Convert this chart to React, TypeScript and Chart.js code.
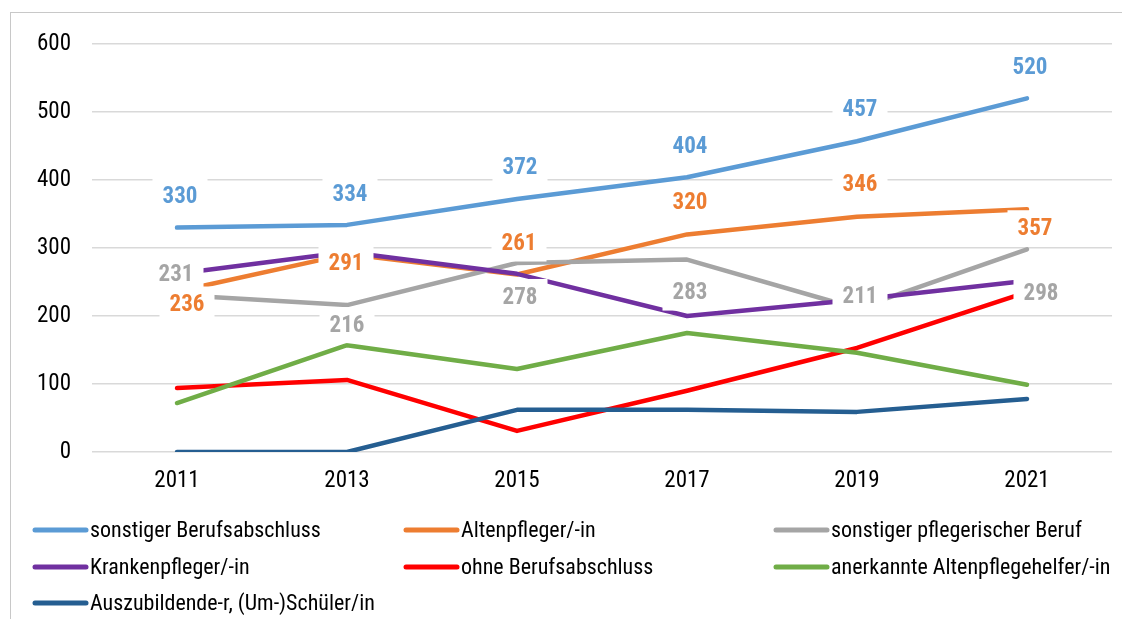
import React, { useEffect, useRef } from "react";
import { Chart, registerables } from "chart.js";

Chart.register(...registerables);

// ---- data ----
const years = ["2011", "2013", "2015", "2017", "2019", "2021"];
const sonstigerBerufsabschluss = [330, 334, 372, 404, 457, 520];
const altenpfleger = [236, 291, 261, 320, 346, 357];
const sonstigerPflegerischerBeruf = [231, 216, 278, 283, 211, 298];
const krankenpfleger = [262, 294, 262, 200, 224, 252];
const ohneBerufsabschluss = [94, 106, 31, 90, 153, 235];
const altenpflegehelfer = [72, 157, 122, 175, 146, 99];
const auszubildende = [0, 0, 62, 62, 59, 78];
const yMin = 0;
const yMax = 600;
const yStep = 100;

const seriesNames = [
  "sonstiger Berufsabschluss",
  "Altenpfleger/-in",
  "sonstiger pflegerischer Beruf",
  "Krankenpfleger/-in",
  "ohne Berufsabschluss",
  "anerkannte Altenpflegehelfer/-in",
  "Auszubildende-r, (Um-)Schüler/in",
];
const seriesValues = [
  sonstigerBerufsabschluss,
  altenpfleger,
  sonstigerPflegerischerBeruf,
  krankenpfleger,
  ohneBerufsabschluss,
  altenpflegehelfer,
  auszubildende,
];
const seriesColors = ["#5B9BD5", "#ED7D31", "#A5A5A5", "#7030A0", "#FF0000", "#70AD47", "#255E91"];

// which series carry value labels, and where each label sits relative to its point (px)
const labeledSeries = [0, 1, 2];
const labelOffsets: [number, number][][] = [
  [[3, -31], [3, -31], [3, -32], [3, -31], [3, -32], [3, -31]],
  [[10, 13], [-1, 9], [2, -31], [3, -32], [3, -32], [8, 19]],
  [[-1, -21], [0, 20], [3, 34], [3, 33], [3, -12], [14, 44]],
];

const FONT = "'Liberation Sans Narrow', 'Arial Narrow', 'Roboto Condensed', 'Liberation Sans', sans-serif";

const borderPlugin = {
  id: "outerBorder",
  beforeDraw(chart: any) {
    const ctx = chart.ctx;
    ctx.save();
    ctx.fillStyle = "#ffffff";
    ctx.fillRect(0, 0, chart.width, chart.height);
    ctx.strokeStyle = "#c8c8c8";
    ctx.lineWidth = 1;
    ctx.strokeRect(10.5, 12.5, chart.width + 20, chart.height + 20);
    ctx.restore();
  },
};

const labelPlugin = {
  id: "valueLabels",
  afterDatasetsDraw(chart: any) {
    const ctx = chart.ctx;
    ctx.save();
    const boxW = 55;
    const boxH = 36;
    const items: { x: number; y: number; text: string; color: string }[] = [];
    labeledSeries.forEach((di, k) => {
      const meta = chart.getDatasetMeta(di);
      meta.data.forEach((pt: any, i: number) => {
        const [dx, dy] = labelOffsets[k][i];
        items.push({
          x: pt.x + dx,
          y: pt.y + dy,
          text: String(seriesValues[di][i]),
          color: seriesColors[di],
        });
      });
    });
    ctx.fillStyle = "#ffffff";
    items.forEach((it) => ctx.fillRect(it.x - boxW / 2, it.y - boxH / 2, boxW, boxH));
    ctx.font = `bold 23px ${FONT}`;
    ctx.textAlign = "center";
    ctx.textBaseline = "middle";
    items.forEach((it) => {
      ctx.fillStyle = it.color;
      ctx.fillText(it.text, it.x, it.y + 1);
    });
    ctx.restore();
  },
};

const legendPlugin = {
  id: "gridLegend",
  afterDraw(chart: any) {
    const ctx = chart.ctx;
    const colX = [32, 403, 773];
    const rowY = [530, 567, 603];
    ctx.save();
    ctx.font = `22px ${FONT}`;
    ctx.textBaseline = "middle";
    ctx.textAlign = "left";
    chart.data.datasets.forEach((ds: any, i: number) => {
      const x = colX[i % 3];
      const y = rowY[Math.floor(i / 3)];
      ctx.strokeStyle = ds.borderColor;
      ctx.lineWidth = 5;
      ctx.lineCap = "round";
      ctx.beginPath();
      ctx.moveTo(x + 3, y);
      ctx.lineTo(x + 54, y);
      ctx.stroke();
      ctx.fillStyle = "#000000";
      ctx.fillText(ds.label, x + 58, y + 1);
    });
    ctx.restore();
  },
};

export default function App() {
  const canvasRef = useRef<HTMLCanvasElement | null>(null);

  useEffect(() => {
    if (!canvasRef.current) return;
    const chart = new Chart(canvasRef.current, {
      type: "line",
      data: {
        labels: years,
        datasets: seriesValues.map((vals, i) => ({
          label: seriesNames[i],
          data: vals,
          borderColor: seriesColors[i],
          backgroundColor: seriesColors[i],
          borderWidth: 4.5,
          pointRadius: 0,
          tension: 0,
          fill: false,
          borderCapStyle: "round",
          borderJoinStyle: "round",
          order: seriesValues.length - i,
        })),
      },
      options: {
        animation: false,
        responsive: false,
        devicePixelRatio: 1,
        layout: { padding: { top: 44, right: 10, left: 0, bottom: 0 } },
        plugins: {
          legend: { display: false },
          tooltip: { enabled: false },
          title: { display: false },
        },
        scales: {
          x: {
            type: "category",
            offset: true,
            grid: { display: false, drawTicks: false },
            border: { display: false },
            ticks: {
              color: "#000000",
              font: { family: FONT, size: 23 },
              padding: 15,
              maxRotation: 0,
            },
            afterFit: (s: any) => {
              s.height = 167;
            },
          },
          y: {
            min: yMin,
            max: yMax,
            ticks: {
              stepSize: yStep,
              color: "#000000",
              font: { family: FONT, size: 23 },
              padding: 21,
            },
            grid: { color: "#d9d9d9", lineWidth: 1.5, drawTicks: false },
            border: { display: false },
            afterFit: (s: any) => {
              s.width = 92;
            },
          },
        },
      } as any,
      plugins: [borderPlugin, labelPlugin, legendPlugin],
    });
    return () => chart.destroy();
  }, []);

  return (
    <div style={{ position: "fixed", left: 0, top: 0, width: 1122, height: 619, background: "#fff" }}>
      <canvas ref={canvasRef} width={1122} height={619} style={{ width: 1122, height: 619, display: "block" }} />
    </div>
  );
}
